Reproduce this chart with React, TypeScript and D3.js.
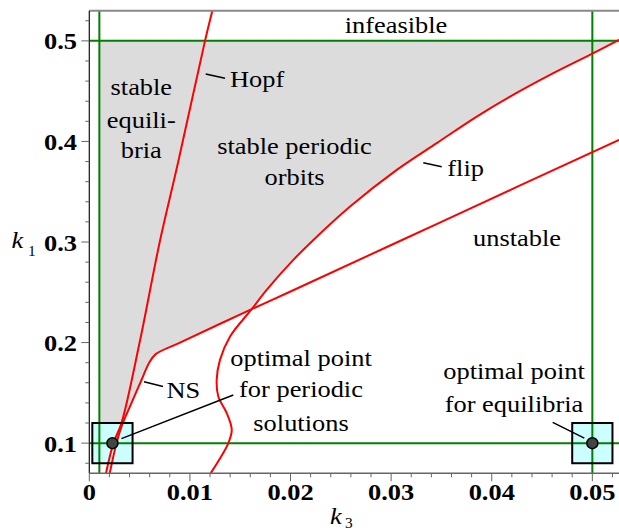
import React from "react";
import * as d3 from "d3";

// ---- data (k3, k1) ----
const hopfCurve: [number, number][] = [
  [0.00166, 0.07], [0.0024, 0.1], [0.0032, 0.12], [0.005, 0.2], [0.007, 0.3],
  [0.0088, 0.378], [0.0115, 0.5], [0.01223, 0.53],
];
const nsCurve: [number, number][] = [
  [0.00203, 0.07], [0.0027, 0.1], [0.0032, 0.1165], [0.0042, 0.14], [0.0052, 0.163],
  [0.0059, 0.179], [0.0066, 0.1885], [0.0088, 0.199], [0.01614, 0.2332], [0.02, 0.2508],
  [0.035, 0.3201], [0.05265, 0.4016],
];
const flipCurve: [number, number][] = [
  [0.01207, 0.0702], [0.01382, 0.1], [0.01416, 0.1132], [0.01366, 0.1298], [0.01282, 0.1463],
  [0.01266, 0.1629], [0.01299, 0.1828], [0.01399, 0.206], [0.01614, 0.2332], [0.01763, 0.2524],
  [0.02028, 0.2822], [0.02194, 0.2988], [0.02592, 0.3352], [0.03056, 0.3717], [0.03453, 0.3983],
  [0.03851, 0.4247], [0.04182, 0.4446], [0.04579, 0.4662], [0.0501, 0.4878], [0.05265, 0.501],
];
const greenK3 = [0.001, 0.05];
const greenK1 = [0.1, 0.5];
const optimalPoints: [number, number][] = [[0.0023, 0.1], [0.05, 0.1]];
const boxHalf: [number, number] = [0.002, 0.02];
const xTickValues = [0, 0.01, 0.02, 0.03, 0.04, 0.05];
const xTickLabels = ["0", "0.01", "0.02", "0.03", "0.04", "0.05"];
const yTickValues = [0.1, 0.2, 0.3, 0.4, 0.5];
const yTickLabels = ["0.1", "0.2", "0.3", "0.4", "0.5"];
const intersection: [number, number] = [0.01614, 0.2332];

const W = 619;
const H = 532;
const FONT = "'Liberation Serif', 'Times New Roman', serif";

export default function App() {
  const x = d3.scaleLinear().domain([0, 0.0527]).range([89.3, 619.5]);
  const y = d3.scaleLinear().domain([0.07, 0.53]).range([473.3, 10.7]);
  const lineC = d3.line<[number, number]>().x((d) => x(d[0])).y((d) => y(d[1])).curve(d3.curveCatmullRom.alpha(0.5));
  const lineL = d3.line<[number, number]>().x((d) => x(d[0])).y((d) => y(d[1]));

  // gray region: left of flip / above NS, below k1=0.5, right of k3=0.001
  const flipUpper = flipCurve.filter((d) => d[0] >= intersection[0] && d[1] >= intersection[1]).slice().reverse();
  const nsLower = nsCurve.filter((d) => d[0] < intersection[0] && d[1] >= 0.1).slice().reverse();
  const grayPoly: [number, number][] = [
    [greenK3[0], 0.5], [0.06, 0.5], [0.06, flipUpper[0][1]], ...flipUpper, ...nsLower, [greenK3[0], 0.1],
  ];

  const minorX = d3.range(0, 27).map((i) => i * 0.002);
  const minorY = d3.range(0, 23).map((i) => 0.08 + i * 0.02);

  const T = (props: { x: number; y: number; anchor?: string; children: any; bold?: boolean; italic?: boolean; size?: number }) => (
    <text
      transform={`translate(${props.x},${props.y}) scale(1.1,1)`}
      textAnchor={props.anchor || "start"}
      fontFamily={FONT}
      fontSize={props.size || 24}
      fontWeight={props.bold ? "bold" : "normal"}
      fontStyle={props.italic ? "italic" : "normal"}
      fill="#000"
    >
      {props.children}
    </text>
  );

  const px = x.range();
  const py = y.range();

  return (
    <svg width={W} height={H} style={{ position: "absolute", left: 0, top: 0, background: "#fff" }}>
      <defs>
        <clipPath id="plot">
          <rect x={px[0]} y={py[1]} width={px[1] - px[0]} height={py[0] - py[1]} />
        </clipPath>
        <clipPath id="grayclip">
          <rect x={px[0]} y={y(0.5)} width={px[1] - px[0]} height={py[0] - y(0.5)} />
        </clipPath>
      </defs>

      <path d={lineL(grayPoly) || ""} fill="#dcdcdc" stroke="none" clipPath="url(#grayclip)" />

      {optimalPoints.map((p, i) => (
        <rect key={"bf" + i} x={x(p[0] - boxHalf[0])} y={y(p[1] + boxHalf[1])}
          width={x(p[0] + boxHalf[0]) - x(p[0] - boxHalf[0])} height={y(p[1] - boxHalf[1]) - y(p[1] + boxHalf[1])}
          fill="#ccffff" stroke="none" />
      ))}

      <g clipPath="url(#plot)">
        {greenK3.map((v, i) => (
          <line key={"gv" + i} x1={x(v)} x2={x(v)} y1={py[0]} y2={py[1]} stroke="#008000" strokeWidth={2} />
        ))}
        {greenK1.map((v, i) => (
          <line key={"gh" + i} x1={px[0]} x2={px[1]} y1={y(v)} y2={y(v)} stroke="#008000" strokeWidth={2} />
        ))}
        <path d={lineC(hopfCurve) || ""} fill="none" stroke="#ff0000" strokeWidth={2} />
        <path d={lineC(nsCurve) || ""} fill="none" stroke="#ff0000" strokeWidth={2} />
        <path d={lineC(flipCurve) || ""} fill="none" stroke="#ff0000" strokeWidth={2} />
      </g>

      {optimalPoints.map((p, i) => (
        <rect key={"bs" + i} x={x(p[0] - boxHalf[0])} y={y(p[1] + boxHalf[1])}
          width={x(p[0] + boxHalf[0]) - x(p[0] - boxHalf[0])} height={y(p[1] - boxHalf[1]) - y(p[1] + boxHalf[1])}
          fill="none" stroke="#000" strokeWidth={2} />
      ))}

      {/* axes */}
      <line x1={px[0]} x2={px[1]} y1={py[1]} y2={py[1]} stroke="#888" strokeWidth={2} />
      <line x1={px[0]} x2={px[0]} y1={py[1]} y2={py[0]} stroke="#111" strokeWidth={1.2} />
      <line x1={px[0]} x2={px[1]} y1={py[0]} y2={py[0]} stroke="#666" strokeWidth={1.5} />
      {minorX.map((v, i) => (
        <line key={"mx" + i} x1={x(v)} x2={x(v)} y1={py[0]} y2={py[0] + (i % 5 === 0 ? 8 : 4)} stroke="#666" strokeWidth={1} />
      ))}
      {minorY.map((v, i) => (
        <line key={"my" + i} x1={px[0]} x2={px[0] - ((i + 4) % 5 === 0 ? 8 : 4)} y1={y(v)} y2={y(v)} stroke="#666" strokeWidth={1} />
      ))}
      {xTickValues.map((v, i) => (
        <T key={"xt" + i} x={x(v)} y={500} anchor="middle" bold>{xTickLabels[i]}</T>
      ))}
      {yTickValues.map((v, i) => (
        <T key={"yt" + i} x={77} y={y(v) + 8.5} anchor="end" bold>{yTickLabels[i]}</T>
      ))}

      {/* axis titles */}
      <T x={11.5} y={248} italic>k</T>
      <T x={28} y={256} size={14}>1</T>
      <T x={330} y={524} italic>k</T>
      <T x={345} y={528} size={14}>3</T>

      {/* pointers */}
      <g stroke="#000" strokeWidth={1.5}>
        <line x1={205.7} y1={74} x2={225} y2={78.3} />
        <line x1={423.3} y1={162.7} x2={441.7} y2={166.7} />
        <line x1={144} y1={381.7} x2={163} y2={386.5} />
        <line x1={x(optimalPoints[0][0]) + 9} y1={y(optimalPoints[0][1]) - 4.5} x2={233.3} y2={395} />
        <line x1={552.7} y1={422.3} x2={x(optimalPoints[1][0]) - 8} y2={y(optimalPoints[1][1]) - 5} />
      </g>

      {optimalPoints.map((p, i) => (
        <circle key={"dot" + i} cx={x(p[0])} cy={y(p[1])} r={5.5} fill="#444" stroke="#000" strokeWidth={1.5} />
      ))}

      {/* region labels */}
      <T x={141.3} y={95} anchor="middle">stable</T>
      <T x={141.3} y={127.5} anchor="middle">equili-</T>
      <T x={141.3} y={158.3} anchor="middle">bria</T>
      <T x={230} y={87.3}>Hopf</T>
      <T x={294.5} y={153.5} anchor="middle">stable periodic</T>
      <T x={294.5} y={185} anchor="middle">orbits</T>
      <T x={447.3} y={176}>flip</T>
      <T x={396} y={33.3} anchor="middle">infeasible</T>
      <T x={517} y={245.7} anchor="middle">unstable</T>
      <T x={166.5} y={397.5}>NS</T>
      <T x={301} y={366} anchor="middle">optimal point</T>
      <T x={301} y={397.3} anchor="middle">for periodic</T>
      <T x={301} y={430.5} anchor="middle">solutions</T>
      <T x={514} y={379.3} anchor="middle">optimal point</T>
      <T x={514} y={411.7} anchor="middle">for equilibria</T>
    </svg>
  );
}
